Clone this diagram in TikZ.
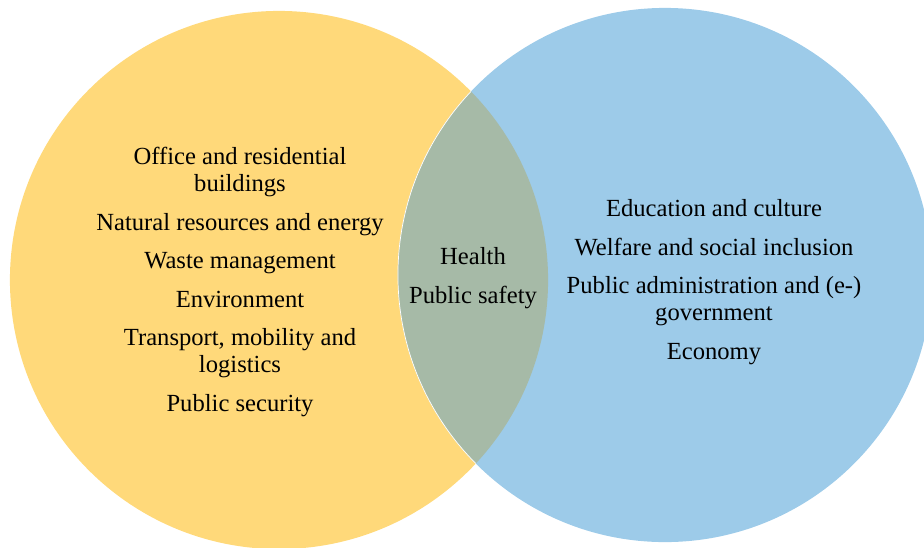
\documentclass[tikz,border=0pt]{standalone}
\usepackage{fontspec}
\setmainfont{Liberation Serif}
\usetikzlibrary{positioning}

\definecolor{techyellow}{RGB}{255,217,122}
\definecolor{socialblue}{RGB}{157,203,233}
\definecolor{sharedgreen}{RGB}{166,186,167}

\begin{document}
\begin{tikzpicture}[x=0.025cm, y=-0.025cm]
      \tikzstyle{area}=[align=center, inner sep=0pt, font=\fontsize{17.5}{19.2}\selectfont]

      \useasboundingbox (0,0) rectangle (924,547);

      % the two circles and their overlap
      \fill[techyellow] (279,280) circle[radius=6.725cm];
      \fill[socialblue] (665,275) circle[radius=6.675cm];
      \begin{scope}
        \clip (279,280) circle[radius=6.725cm];
        \fill[sharedgreen] (665,275) circle[radius=6.675cm];
        \draw[white, line width=0.5pt] (665,275) circle[radius=6.675cm];
      \end{scope}

      \node[area] (tech) at (240,282) {Office and residential\\ buildings\\[8.2pt]
        Natural resources and energy\\[8.2pt] Waste management\\[8.2pt]
        Environment\\[8.2pt] Transport, mobility and\\ logistics\\[8.2pt]
        Public security};
      \node[area] (both) at (473,278) {Health\\[8.2pt] Public safety};
      \node[area] (social) at (714,282) {Education and culture\\[8.2pt]
        Welfare and social inclusion\\[8.2pt] Public administration and (e-)\\
        government\\[8.2pt] Economy};
\end{tikzpicture}
\end{document}
